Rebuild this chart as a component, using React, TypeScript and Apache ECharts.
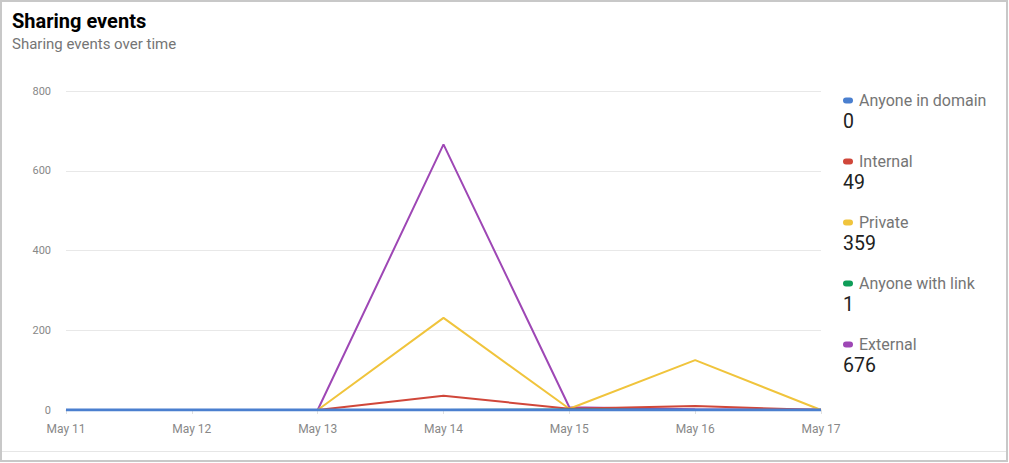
import React, { useEffect, useRef } from "react";
import * as echarts from "echarts";

const dates = ["May 11", "May 12", "May 13", "May 14", "May 15", "May 16", "May 17"];
const seriesNames = ["Anyone in domain", "Internal", "Private", "Anyone with link", "External"];
const seriesColors = ["#4a7fcf", "#d0473a", "#f0c43c", "#0f9d58", "#9e47b5"];
const anyoneInDomain = [0, 0, 0, 0, 0, 0, 0];
const internal = [0, 0, 0, 36, 3, 10, 0];
const privateVals = [0, 0, 0, 231, 3, 125, 0];
const anyoneWithLink = [0, 0, 0, 0, 1, 0, 0];
const external = [0, 0, 0, 666, 7, 2, 1];
const totals = [0, 49, 359, 1, 676];
const yTicks = [0, 200, 400, 600, 800];

export default function App() {
  const ref = useRef<HTMLDivElement>(null);
  useEffect(() => {
    if (!ref.current) return;
    const chart = echarts.init(ref.current, undefined, { renderer: "svg" });
    const dataBySeries = [anyoneInDomain, internal, privateVals, anyoneWithLink, external];
    // draw order: blue on top
    const order = [4, 2, 1, 3, 0];
    const series = order.map((i) => ({
      name: seriesNames[i],
      type: "line",
      data: dataBySeries[i],
      symbol: "none",
      lineStyle: { color: seriesColors[i], width: i === 0 ? 3 : 2 },
      itemStyle: { color: seriesColors[i] },
      z: 2 + order.indexOf(i),
    }));
    const legendGraphics: any[] = [];
    seriesNames.forEach((n, i) => {
      const y0 = 94 + i * 61;
      legendGraphics.push({
        type: "rect",
        shape: { x: 843, y: y0 + 3.5, width: 10, height: 6, r: 3 },
        style: { fill: seriesColors[i] },
      });
      legendGraphics.push({
        type: "text",
        x: 859,
        y: y0 - 1.5,
        style: { text: n, fill: "#757575", font: "16px Roboto", textVerticalAlign: "top" },
      });
      legendGraphics.push({
        type: "text",
        x: 843,
        y: y0 + 17,
        style: { text: String(totals[i]), fill: "#212121", font: "19.5px Roboto", textVerticalAlign: "top" },
      });
    });
    chart.setOption({
      animation: false,
      title: {
        text: "Sharing events",
        subtext: "Sharing events over time",
        left: 7,
        top: 6,
        itemGap: 5,
        textStyle: { fontFamily: "Roboto", fontSize: 20, fontWeight: "bold", color: "#000" },
        subtextStyle: { fontFamily: "Roboto", fontSize: 15, color: "#757575" },
      },
      grid: { left: 66, right: 188, top: 91, bottom: 53, containLabel: false },
      xAxis: {
        type: "category",
        data: dates,
        boundaryGap: false,
        axisLine: { show: true, lineStyle: { color: "#e0e0e0" } },
        axisTick: { show: true, alignWithLabel: true, length: 4, lineStyle: { color: "#e0e0e0" } },
        axisLabel: { color: "#888", fontFamily: "Roboto", fontSize: 12, margin: 13 },
      },
      yAxis: {
        type: "value",
        min: 0,
        max: yTicks[yTicks.length - 1],
        interval: 200,
        axisLine: { show: false },
        axisTick: { show: false },
        splitLine: { lineStyle: { color: "#e8e8e8" } },
        axisLabel: { color: "#888", fontFamily: "Roboto", fontSize: 11, margin: 15 },
      },
      series,
      graphic: [
        {
          type: "rect",
          shape: { x: 1, y: 1, width: 1006, height: 460 },
          style: { fill: "none", stroke: "#c8c8c8", lineWidth: 2 },
          silent: true,
        },
        {
          type: "line",
          shape: { x1: 2, y1: 451.5, x2: 1006, y2: 451.5 },
          style: { stroke: "#e6e6e6", lineWidth: 1 },
          silent: true,
        },
        ...legendGraphics,
      ],
    });
    return () => chart.dispose();
  }, []);
  return (
    <div
      ref={ref}
      style={{ position: "absolute", left: 0, top: 0, width: 1009, height: 463, background: "#fff" }}
    />
  );
}
